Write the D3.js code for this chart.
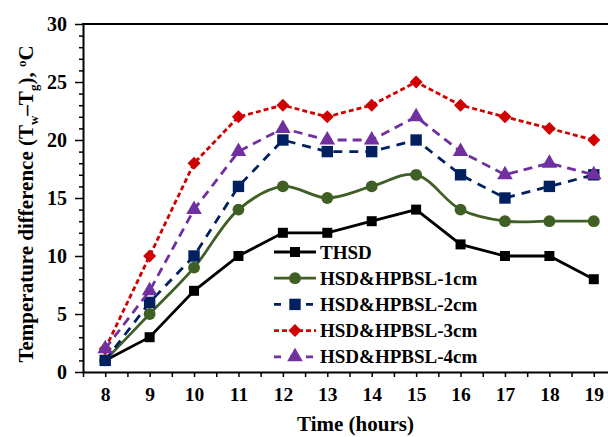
<!DOCTYPE html>
<html>
<head>
<meta charset="utf-8">
<script src="https://cdn.jsdelivr.net/npm/d3@7"></script>
<style>
  body { margin: 0; background: #fff; }
  svg { display: block; font-family: "Liberation Serif", "Times New Roman", serif; font-weight: bold; }
</style>
</head>
<body>
<svg id="chart" width="608" height="437"></svg>
<script>
// Temperature difference by hour for the five still configurations

const hours = [8, 9, 10, 11, 12, 13, 14, 15, 16, 17, 18, 19];
const yTicks = [0, 5, 10, 15, 20, 25, 30];

const thsd   = [1, 3, 7, 10, 12, 12, 13, 14, 11, 10, 10, 8];
const hsd1cm = [1, 5, 9, 14, 16, 15, 16, 17, 14, 13, 13, 13];
const hsd2cm = [1, 6, 10, 16, 20, 19, 19, 20, 17, 15, 16, 17];
const hsd3cm = [2, 10, 18, 22, 23, 22, 23, 25, 23, 22, 21, 20];
const hsd4cm = [2, 7, 14, 19, 21, 20, 20, 22, 19, 17, 18, 17];

const seriesNames = ["THSD", "HSD&HPBSL-1cm", "HSD&HPBSL-2cm", "HSD&HPBSL-3cm", "HSD&HPBSL-4cm"];

// rotate 45 deg marks the diamond
const styles = [
    { values: thsd,   color: "#000000", dash: null,  legendDash: null,  symbol: d3.symbolSquare,   size: 100, rotate: 0,  smooth: false },
    { values: hsd1cm, color: "#3f5f24", dash: null,  legendDash: null,  symbol: d3.symbolCircle,   size: 110, rotate: 0,  smooth: true },
    { values: hsd2cm, color: "#002060", dash: "9,7", legendDash: "7,9", symbol: d3.symbolSquare,   size: 130, rotate: 0,  smooth: false },
    { values: hsd3cm, color: "#d00000", dash: "5,3", legendDash: "5,3", symbol: d3.symbolSquare,   size: 85,  rotate: 45, smooth: false },
    { values: hsd4cm, color: "#7030a0", dash: "9,6", legendDash: "7,9", symbol: d3.symbolTriangle, size: 105, rotate: 0,  smooth: false }
];

const margin = { top: 24, left: 83, bottom: 65 };
const plotRight = 616;   // the plot runs past the right edge of the picture
const height = 437 - margin.top - margin.bottom;

const svg = d3.select("#chart");

const x = d3.scaleLinear()
    .domain([hours[0] - 0.5, hours[hours.length - 1] + 0.5])
    .range([margin.left, plotRight]);

const y = d3.scaleLinear()
    .domain([0, 30])
    .range([margin.top + height, margin.top]);

// x axis, ticks at every half hour, labels on whole hours
const xAxis = svg.append("g")
    .attr("transform", `translate(0,${y(0)})`)
    .call(d3.axisBottom(x)
        .tickValues(d3.range(hours[0] - 0.5, hours[hours.length - 1] + 0.51, 0.5))
        .tickSize(5)
        .tickSizeOuter(0)
        .tickPadding(10)
        .tickFormat(d => hours.includes(d) ? d : ""));
xAxis.select(".domain").attr("stroke-width", 2);
xAxis.selectAll(".tick line").attr("stroke-width", 1.5);
xAxis.selectAll("text")
    .attr("font-size", 19.5)
    .attr("font-family", "Liberation Serif")
    .attr("font-weight", "bold")
    .attr("fill", "#000");

// y axis, minor ticks at every unit
const yAxis = svg.append("g")
    .attr("transform", `translate(${margin.left},0)`)
    .call(d3.axisLeft(y)
        .tickValues(d3.range(0, 31, 1))
        .tickSize(4)
        .tickSizeOuter(0)
        .tickPadding(12)
        .tickFormat(d => yTicks.includes(d) ? d : ""));
yAxis.select(".domain").attr("stroke-width", 2);
yAxis.selectAll(".tick line")
    .attr("stroke-width", 1.5)
    .attr("x2", d => yTicks.includes(d) ? -8 : -4);
yAxis.selectAll("text")
    .attr("font-size", 20)
    .attr("font-family", "Liberation Serif")
    .attr("font-weight", "bold")
    .attr("fill", "#000");

// top border
svg.append("line")
    .attr("x1", margin.left - 1)
    .attr("x2", plotRight)
    .attr("y1", y(30))
    .attr("y2", y(30))
    .attr("stroke", "#000")
    .attr("stroke-width", 2);

// axis titles
svg.append("text")
    .attr("x", (margin.left + 608) / 2 + 10)
    .attr("y", 431)
    .attr("text-anchor", "middle")
    .attr("font-size", 21)
    .text("Time (hours)");

const yTitle = svg.append("text")
    .attr("transform", `translate(33,${y(15) + 6}) rotate(-90)`)
    .attr("text-anchor", "middle")
    .attr("font-size", 21);
yTitle.append("tspan").text("Temperature difference (T");
yTitle.append("tspan").attr("font-size", 13).attr("dy", 5).text("w");
yTitle.append("tspan").attr("dy", -5).text("–T");
yTitle.append("tspan").attr("font-size", 13).attr("dy", 5).text("g");
yTitle.append("tspan").attr("dy", -5).text("), ");
yTitle.append("tspan").attr("font-size", 13).attr("dy", -7).text("o");
yTitle.append("tspan").attr("dy", 7).text("C");

// series
styles.forEach((s, i) => {
    const pts = hours.map((h, j) => ({ h: h, v: s.values[j] }));

    const line = d3.line()
        .x(d => x(d.h))
        .y(d => y(d.v))
        .curve(s.smooth ? d3.curveCatmullRom.alpha(0.5) : d3.curveLinear);

    svg.append("path")
        .datum(pts)
        .attr("class", "line")
        .attr("fill", "none")
        .attr("stroke", s.color)
        .attr("stroke-width", 2.8)
        .attr("stroke-dasharray", s.dash)
        .attr("d", line);

    svg.selectAll(".mark" + i)
        .data(pts)
        .enter()
        .append("path")
        .attr("class", "mark" + i)
        .attr("transform", d => `translate(${x(d.h)},${y(d.v)}) rotate(${s.rotate})`)
        .attr("d", d3.symbol().type(s.symbol).size(s.size))
        .attr("fill", s.color);
});

// legend
const legend = svg.append("g")
    .attr("transform", "translate(274,252)");

styles.forEach((s, i) => {
    const row = legend.append("g")
        .attr("transform", `translate(0,${i * 26.2})`);

    row.append("line")
        .attr("x1", 0)
        .attr("x2", 42)
        .attr("stroke", s.color)
        .attr("stroke-width", 2.8)
        .attr("stroke-dasharray", s.legendDash);

    row.append("path")
        .attr("transform", `translate(21,0) rotate(${s.rotate})`)
        .attr("d", d3.symbol().type(s.symbol).size(s.size))
        .attr("fill", s.color);

    row.append("text")
        .attr("x", 46)
        .attr("y", 0)
        .attr("dy", "0.35em")
        .attr("font-size", 19)
        .text(seriesNames[i]);
});
</script>
</body>
</html>
